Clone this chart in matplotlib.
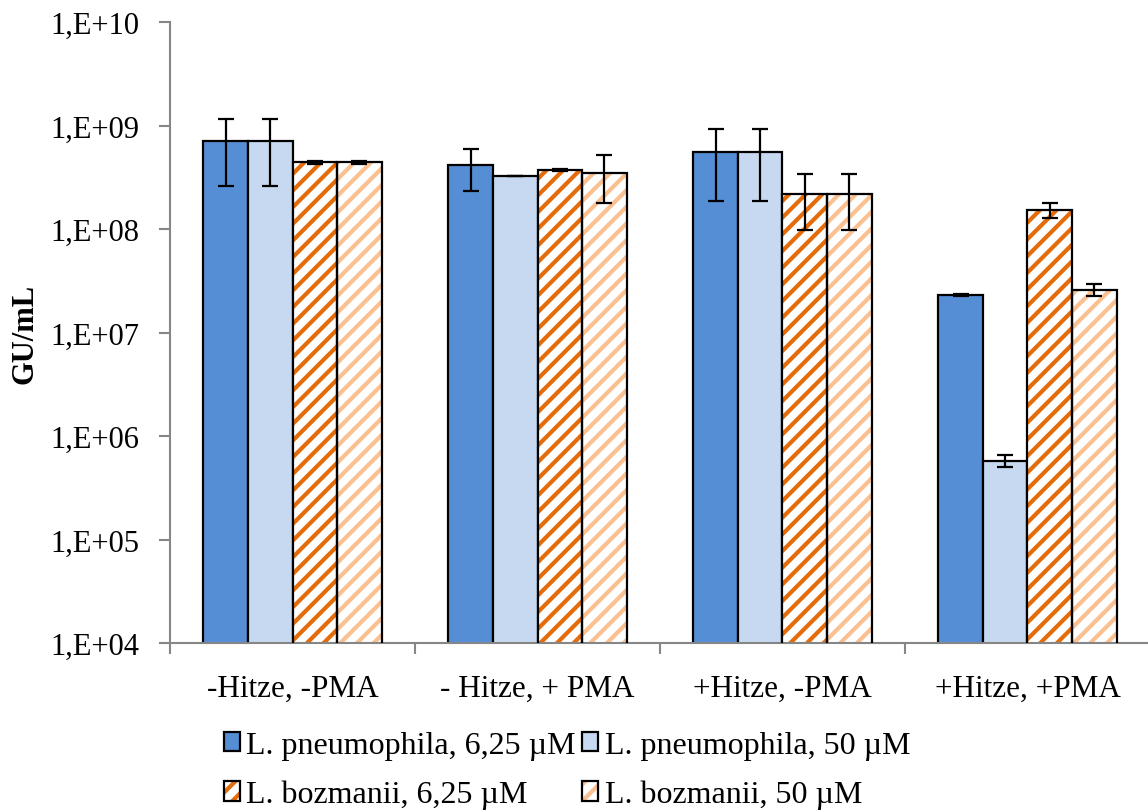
import numpy as np
import matplotlib
matplotlib.use("Agg")
import matplotlib.pyplot as plt
from matplotlib.ticker import FixedLocator, FuncFormatter, NullLocator

plt.rcParams['font.family'] = ['Liberation Serif', 'DejaVu Serif']
plt.rcParams['hatch.linewidth'] = 3.0

categories = ['-Hitze, -PMA', '- Hitze, + PMA', '+Hitze, -PMA', '+Hitze, +PMA']
series = ['L. pneumophila, 6,25 \u00b5M', 'L. pneumophila, 50 \u00b5M',
          'L. bozmanii, 6,25 \u00b5M', 'L. bozmanii, 50 \u00b5M']

# GU/mL per condition, one list per series
lp_625 = [7.1e8, 4.15e8, 5.55e8, 2.3e7]
lp_50 = [7.1e8, 3.25e8, 5.55e8, 5.75e5]
lb_625 = [4.4e8, 3.72e8, 2.18e8, 1.53e8]
lb_50 = [4.4e8, 3.48e8, 2.18e8, 2.58e7]

# standard deviations
lp_625_err = [4.5e8, 1.8e8, 3.7e8, 3e5]
lp_50_err = [4.5e8, 2e6, 3.7e8, 7.5e4]
lb_625_err = [1.5e7, 1e7, 1.2e8, 2.5e7]
lb_50_err = [1.5e7, 1.7e8, 1.2e8, 3.5e6]

values = [lp_625, lp_50, lb_625, lb_50]
errors = [lp_625_err, lp_50_err, lb_625_err, lb_50_err]
colors = ['#558ED5', '#C6D9F1', '#E46C0A', '#FAC090']
hatches = [None, None, '//', '//']

fig = plt.figure(figsize=(11.48, 8.12), dpi=100)
ax = fig.add_axes([170 / 1148, 168 / 812, 980 / 1148, 621 / 812])

x = np.arange(len(categories))
w = 0.182
handles = []
for i in range(4):
    pos = x + (i - 1.5) * w
    if hatches[i]:
        ax.bar(pos, values[i], w, color='white', edgecolor=colors[i],
               hatch=hatches[i], linewidth=0, zorder=2)
        ax.bar(pos, values[i], w, facecolor='none', edgecolor='black',
               linewidth=1.6, zorder=3)
        # legend swatch: hatch underneath a black frame
        hatch_patch = plt.Rectangle((0, 0), 1, 1, facecolor='white',
                                    edgecolor=colors[i], hatch=hatches[i], linewidth=0)
        frame = plt.Rectangle((0, 0), 1, 1, facecolor='none',
                              edgecolor='black', linewidth=1.6)
        handles.append((hatch_patch, frame))
    else:
        b = ax.bar(pos, values[i], w, color=colors[i], edgecolor='black',
                   linewidth=1.6, zorder=2)
        handles.append(b)
    ax.errorbar(pos, values[i], yerr=errors[i], fmt='none', ecolor='black',
                elinewidth=1.6, capsize=6, capthick=1.6, zorder=4)

ax.set_yscale('log')
ax.set_ylim(1e4, 1e10)
ax.yaxis.set_major_locator(FixedLocator([10.0 ** k for k in range(4, 11)]))
ax.yaxis.set_minor_locator(NullLocator())
ax.yaxis.set_major_formatter(FuncFormatter(
    lambda v, p: '1,E+%02d' % int(round(np.log10(v)))))

ax.set_xlim(-0.5, 3.5)
ax.set_xticks(np.arange(-0.5, 4.0, 1.0))
ax.set_xticklabels([])
ax.set_xticks(x, minor=True)
ax.set_xticklabels(categories, minor=True)
ax.tick_params(axis='x', which='minor', length=0, pad=22, labelsize=22.5)
ax.tick_params(axis='x', which='major', length=8, width=1.5, color='#868686')
ax.tick_params(axis='y', length=8, width=1.5, color='#868686', labelsize=22, pad=14)

for s in ['top', 'right']:
    ax.spines[s].set_visible(False)
for s in ['left', 'bottom']:
    ax.spines[s].set_color('#868686')
    ax.spines[s].set_linewidth(1.5)

ax.set_ylabel('GU/mL', fontsize=22, fontweight='bold', labelpad=8)

# matplotlib fills legend columns first, so reorder for row-wise reading
order = [0, 2, 1, 3]
ax.legend([handles[k] for k in order], [series[k] for k in order],
          loc='upper left', bbox_to_anchor=(208 / 1148, 96 / 812),
          bbox_transform=fig.transFigure, ncol=2, frameon=False, fontsize=23,
          handlelength=0.5, handleheight=0.55, handletextpad=0.2,
          columnspacing=0.2, labelspacing=0.62, borderpad=0)

fig.savefig('out.png', dpi=100)
